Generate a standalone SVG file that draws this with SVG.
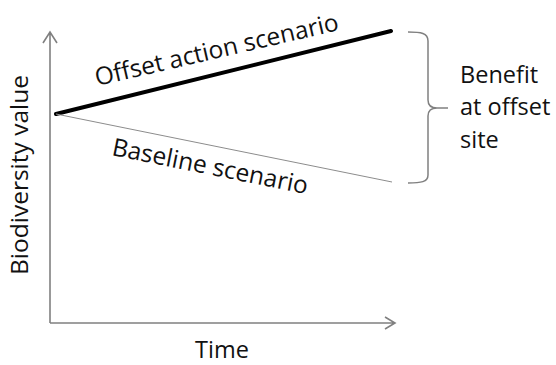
<svg xmlns="http://www.w3.org/2000/svg" width="556" height="365" viewBox="0 0 556 365">
<style>
text{font-family:"Open Sans","Noto Sans","Liberation Sans",sans-serif;font-size:23.5px;fill:#111}
.axis{stroke:#808080;stroke-width:1.6;fill:none}
.brace{stroke:#808080;stroke-width:1.5;fill:none}
.big{font-size:24.5px}
</style>
<rect width="556" height="365" fill="#fff"/>
<g id="axes">
<path class="axis" d="M50,323 V32 M43,43 L50,32 L57,43"/>
<path class="axis" d="M50,323 H395 M385,317 L395,323 L385,329"/>
<text id="x-label" x="222" y="358" text-anchor="middle">Time</text>
<text id="y-label" class="big" transform="translate(28,175) rotate(-90)" text-anchor="middle">Biodiversity value</text>
</g>
<g id="connectors">
<line id="offset-line" x1="56" y1="114" x2="391" y2="31" stroke="#000" stroke-width="4" stroke-linecap="round"/>
<line id="baseline-line" x1="56" y1="114" x2="392" y2="182" stroke="#8c8c8c" stroke-width="1"/>
</g>
<g id="offset-label">
<text class="big" transform="translate(97,86) rotate(-13)">Offset action scenario</text>
</g>
<g id="baseline-label">
<text class="big" transform="translate(111,155) rotate(11.3)">Baseline scenario</text>
</g>
<g id="benefit">
<path class="brace" d="M408,32 C421,32 428,33 428,41 L428,100 C428,106 431,108 437,108 L448,108 M437,108 C431,108 428,110 428,116 L428,175 C428,182 421,183 408,183"/>
<text x="460" y="83">Benefit</text>
<text x="460" y="115">at offset</text>
<text x="460" y="148">site</text>
</g>
</svg>
